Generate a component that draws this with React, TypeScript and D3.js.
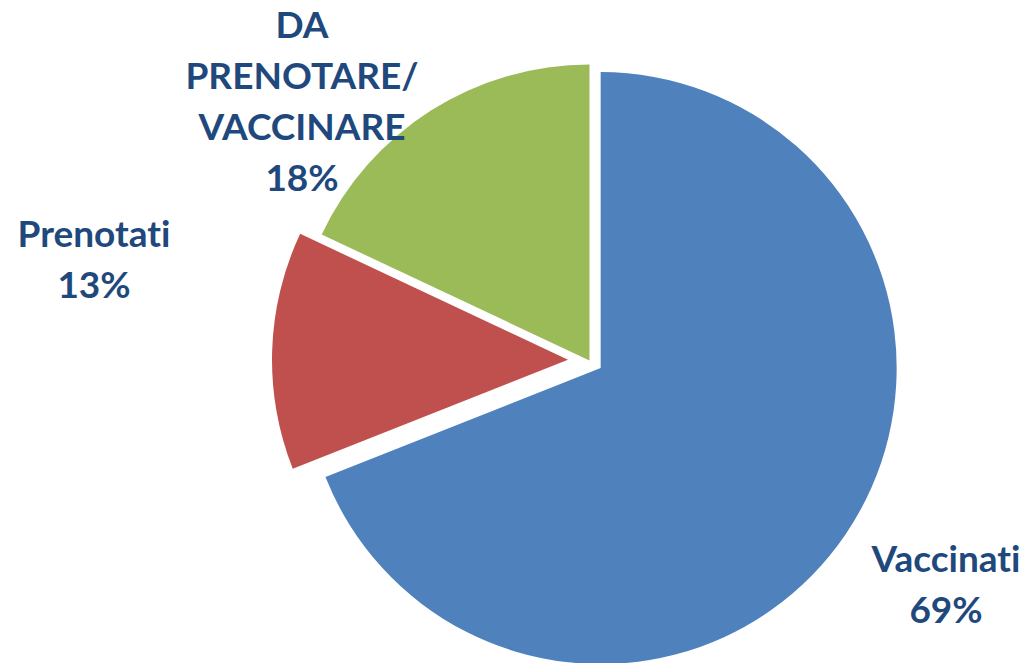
import React from "react";
import * as d3 from "d3";

const categories = ["Vaccinati", "Prenotati", "DA PRENOTARE/VACCINARE"];
const values = [69, 13, 18];
const labelLines = [["Vaccinati", "69%"], ["Prenotati", "13%"], ["DA", "PRENOTARE/", "VACCINARE", "18%"]];
const colors = ["#4F81BD", "#C0504D", "#9BBB59"];
const explode = [13.5, 21.5, 0];

const W = 1029;
const H = 663;
const CX = 589.5;
const CY = 360.5;
const R = 296;
const labelPos = [
  { x: 946, y: 572 },
  { x: 94, y: 247 },
  { x: 302, y: 38 },
];
const LINE = 51;

export default function App() {
  const pie = d3.pie<number>().sort(null).startAngle(0).endAngle(2 * Math.PI);
  const arcs = pie(values);
  const arc = d3.arc<d3.PieArcDatum<number>>().innerRadius(0).outerRadius(R);
  return (
    <div style={{ position: "fixed", left: 0, top: 0 }}>
      <svg width={W} height={H} style={{ display: "block" }}>
        <rect width={W} height={H} fill="#ffffff" />
        {arcs.map((a, i) => {
          const mid = (a.startAngle + a.endAngle) / 2;
          const dx = Math.sin(mid) * explode[i];
          const dy = -Math.cos(mid) * explode[i];
          return (
            <path
              key={categories[i]}
              d={arc(a) || ""}
              transform={`translate(${CX + dx},${CY + dy})`}
              fill={colors[i]}
            />
          );
        })}
        {labelLines.map((lines, i) => (
          <text
            key={"l" + i}
            textAnchor="middle"
            fontFamily="Lato, 'Open Sans', sans-serif"
            fontWeight="bold"
            fontSize={37}
            fill="#1F497D"
            style={{ fontVariantLigatures: "none" }}
          >
            {lines.map((ln, j) => (
              <tspan key={j} x={labelPos[i].x} y={labelPos[i].y + j * LINE}>
                {ln}
              </tspan>
            ))}
          </text>
        ))}
      </svg>
    </div>
  );
}
